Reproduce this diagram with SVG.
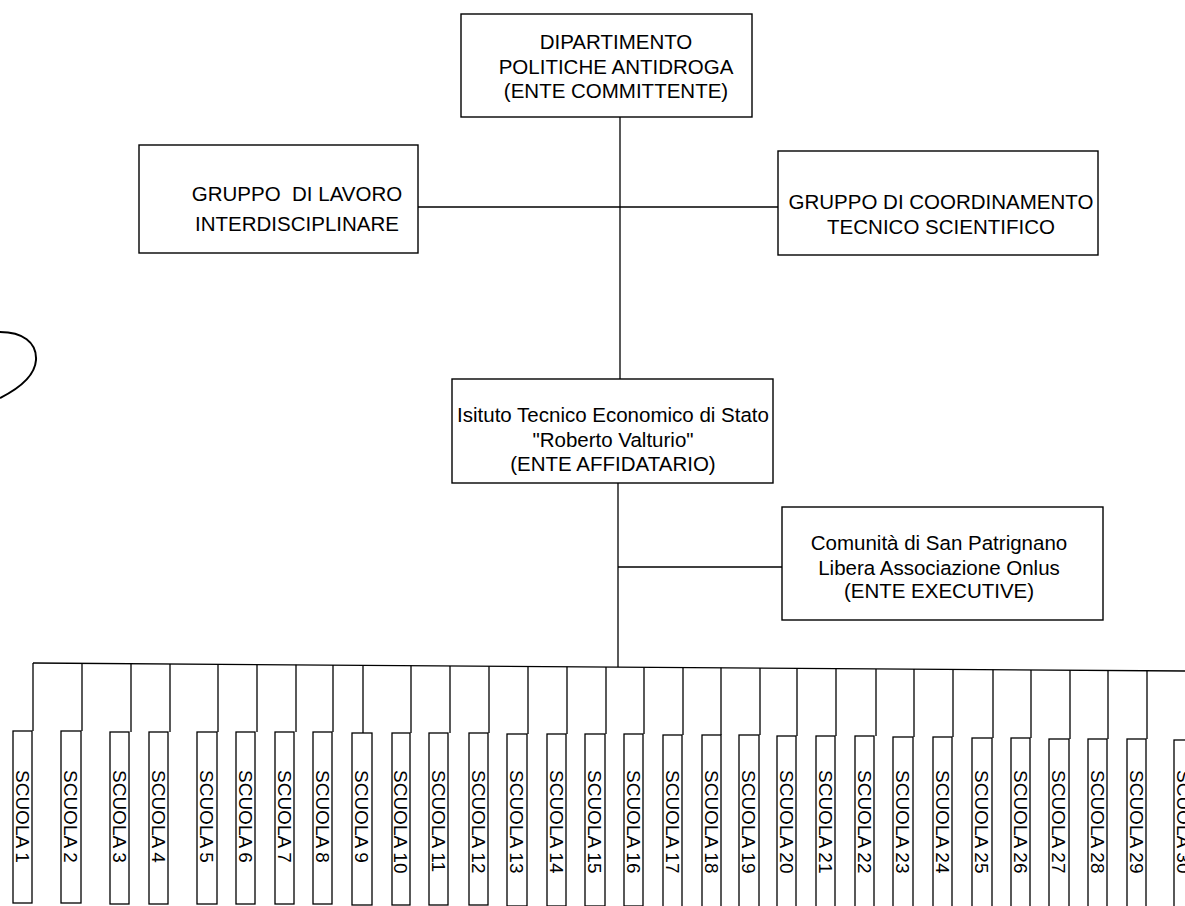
<svg xmlns="http://www.w3.org/2000/svg" width="1185" height="906" viewBox="0 0 1185 906">
<style>
.box{fill:#fff;stroke:#000;stroke-width:1.4}
.sbox{fill:#fff;stroke:#000;stroke-width:1.3}
.t{font-family:"Liberation Sans",Arial,sans-serif;font-size:20.5px;fill:#000;text-anchor:middle;white-space:pre}
.s{font-family:"Liberation Sans",Arial,sans-serif;font-size:19px;fill:#000}
.c line,.c polyline{stroke:#000;stroke-width:1.3;fill:none}
</style>
<rect width="1185" height="906" fill="#fff"/>
<path d="M0 332 C22 332 37 342 36 360 C35 375 20 388 0 398" fill="none" stroke="#000" stroke-width="2"/>
<g class="c" id="connectors">
<line x1="620" y1="117" x2="620" y2="379"/>
<line x1="418" y1="207" x2="778" y2="207"/>
<line x1="618" y1="483" x2="618" y2="667"/>
<line x1="618" y1="567" x2="782" y2="567"/>
<line x1="33" y1="663" x2="1185" y2="671"/>
<line x1="33" y1="663" x2="33" y2="731"/>
<line x1="82" y1="663.3" x2="82" y2="731"/>
<line x1="131" y1="663.7" x2="131" y2="732"/>
<line x1="170" y1="664" x2="170" y2="732"/>
<line x1="218" y1="664.3" x2="218" y2="732"/>
<line x1="257" y1="664.6" x2="257" y2="732"/>
<line x1="296" y1="664.8" x2="296" y2="732"/>
<line x1="333" y1="665.1" x2="333" y2="732"/>
<line x1="363" y1="665.3" x2="363" y2="733"/>
<line x1="411" y1="665.6" x2="411" y2="733"/>
<line x1="450" y1="665.9" x2="450" y2="733"/>
<line x1="489" y1="666.2" x2="489" y2="733"/>
<line x1="528" y1="666.4" x2="528" y2="734"/>
<line x1="567" y1="666.7" x2="567" y2="734"/>
<line x1="606" y1="667" x2="606" y2="734"/>
<line x1="644" y1="667.2" x2="644" y2="734"/>
<line x1="683" y1="667.5" x2="683" y2="735"/>
<line x1="721" y1="667.8" x2="721" y2="735"/>
<line x1="760" y1="668" x2="760" y2="735"/>
<line x1="797" y1="668.3" x2="797" y2="736"/>
<line x1="836" y1="668.6" x2="836" y2="736"/>
<line x1="876" y1="668.9" x2="876" y2="736"/>
<line x1="914" y1="669.1" x2="914" y2="737"/>
<line x1="953" y1="669.4" x2="953" y2="737"/>
<line x1="993" y1="669.7" x2="993" y2="738"/>
<line x1="1031" y1="670" x2="1031" y2="738"/>
<line x1="1070" y1="670.2" x2="1070" y2="739"/>
<line x1="1108" y1="670.5" x2="1108" y2="739"/>
<line x1="1147" y1="670.8" x2="1147" y2="739"/>
</g>
<g id="n-dipartimento">
<rect class="box" x="461" y="14" width="291" height="103"/>
<text class="t" x="616" y="49">DIPARTIMENTO</text>
<text class="t" x="616" y="74">POLITICHE ANTIDROGA</text>
<text class="t" x="616" y="98">(ENTE COMMITTENTE)</text>
</g>
<g id="n-gruppo-lavoro">
<rect class="box" x="139" y="145" width="279" height="108"/>
<text class="t" x="297" y="201">GRUPPO  DI LAVORO</text>
<text class="t" x="297" y="231">INTERDISCIPLINARE</text>
</g>
<g id="n-gruppo-coord">
<rect class="box" x="778" y="151" width="320" height="104"/>
<text class="t" x="941" y="209">GRUPPO DI COORDINAMENTO</text>
<text class="t" x="941" y="234">TECNICO SCIENTIFICO</text>
</g>
<g id="n-istituto">
<rect class="box" x="452" y="379" width="321" height="104"/>
<text class="t" x="613" y="422">Isituto Tecnico Economico di Stato</text>
<text class="t" x="613" y="447">"Roberto Valturio"</text>
<text class="t" x="613" y="471">(ENTE AFFIDATARIO)</text>
</g>
<g id="n-sanpatrignano">
<rect class="box" x="782" y="507" width="321" height="113"/>
<text class="t" x="939" y="550">Comunità di San Patrignano</text>
<text class="t" x="939" y="575">Libera Associazione Onlus</text>
<text class="t" x="939" y="598">(ENTE EXECUTIVE)</text>
</g>
<g id="n-s1"><rect class="sbox" x="13" y="731" width="19" height="172"/><text class="s" transform="translate(15.7,770) rotate(90)">SCUOLA 1</text></g>
<g id="n-s2"><rect class="sbox" x="61" y="731" width="20" height="172"/><text class="s" transform="translate(64.2,770) rotate(90)">SCUOLA 2</text></g>
<g id="n-s3"><rect class="sbox" x="110" y="732" width="19" height="172"/><text class="s" transform="translate(112.7,770) rotate(90)">SCUOLA 3</text></g>
<g id="n-s4"><rect class="sbox" x="149" y="732" width="19" height="172"/><text class="s" transform="translate(151.7,770) rotate(90)">SCUOLA 4</text></g>
<g id="n-s5"><rect class="sbox" x="197" y="732" width="20" height="172"/><text class="s" transform="translate(200.2,770) rotate(90)">SCUOLA 5</text></g>
<g id="n-s6"><rect class="sbox" x="236" y="732" width="19" height="172"/><text class="s" transform="translate(238.7,770) rotate(90)">SCUOLA 6</text></g>
<g id="n-s7"><rect class="sbox" x="275" y="732" width="19" height="172"/><text class="s" transform="translate(277.7,770) rotate(90)">SCUOLA 7</text></g>
<g id="n-s8"><rect class="sbox" x="313" y="732" width="19" height="172"/><text class="s" transform="translate(315.7,770) rotate(90)">SCUOLA 8</text></g>
<g id="n-s9"><rect class="sbox" x="352" y="733" width="20" height="172"/><text class="s" transform="translate(355.2,770) rotate(90)">SCUOLA 9</text></g>
<g id="n-s10"><rect class="sbox" x="392" y="733" width="18" height="172"/><text class="s" transform="translate(394.2,770) rotate(90)">SCUOLA 10</text></g>
<g id="n-s11"><rect class="sbox" x="429" y="733" width="19" height="172"/><text class="s" transform="translate(431.7,770) rotate(90)">SCUOLA 11</text></g>
<g id="n-s12"><rect class="sbox" x="469" y="733" width="19" height="172"/><text class="s" transform="translate(471.7,770) rotate(90)">SCUOLA 12</text></g>
<g id="n-s13"><rect class="sbox" x="507" y="734" width="20" height="172"/><text class="s" transform="translate(510.2,770) rotate(90)">SCUOLA 13</text></g>
<g id="n-s14"><rect class="sbox" x="547" y="734" width="19" height="172"/><text class="s" transform="translate(549.7,770) rotate(90)">SCUOLA 14</text></g>
<g id="n-s15"><rect class="sbox" x="585" y="734" width="20" height="172"/><text class="s" transform="translate(588.2,770) rotate(90)">SCUOLA 15</text></g>
<g id="n-s16"><rect class="sbox" x="624" y="734" width="19" height="172"/><text class="s" transform="translate(626.7,770) rotate(90)">SCUOLA 16</text></g>
<g id="n-s17"><rect class="sbox" x="663" y="735" width="19" height="172"/><text class="s" transform="translate(665.7,770) rotate(90)">SCUOLA 17</text></g>
<g id="n-s18"><rect class="sbox" x="702" y="735" width="19" height="172"/><text class="s" transform="translate(704.7,770) rotate(90)">SCUOLA 18</text></g>
<g id="n-s19"><rect class="sbox" x="739" y="735" width="20" height="172"/><text class="s" transform="translate(742.2,770) rotate(90)">SCUOLA 19</text></g>
<g id="n-s20"><rect class="sbox" x="777" y="736" width="19" height="172"/><text class="s" transform="translate(779.7,770) rotate(90)">SCUOLA 20</text></g>
<g id="n-s21"><rect class="sbox" x="816" y="736" width="19" height="172"/><text class="s" transform="translate(818.7,770) rotate(90)">SCUOLA 21</text></g>
<g id="n-s22"><rect class="sbox" x="855" y="736" width="19" height="172"/><text class="s" transform="translate(857.7,770) rotate(90)">SCUOLA 22</text></g>
<g id="n-s23"><rect class="sbox" x="893" y="737" width="20" height="172"/><text class="s" transform="translate(896.2,770) rotate(90)">SCUOLA 23</text></g>
<g id="n-s24"><rect class="sbox" x="933" y="737" width="19" height="172"/><text class="s" transform="translate(935.7,770) rotate(90)">SCUOLA 24</text></g>
<g id="n-s25"><rect class="sbox" x="972" y="738" width="20" height="172"/><text class="s" transform="translate(975.2,770) rotate(90)">SCUOLA 25</text></g>
<g id="n-s26"><rect class="sbox" x="1011" y="738" width="19" height="172"/><text class="s" transform="translate(1013.7,770) rotate(90)">SCUOLA 26</text></g>
<g id="n-s27"><rect class="sbox" x="1049" y="739" width="20" height="172"/><text class="s" transform="translate(1052.2,770) rotate(90)">SCUOLA 27</text></g>
<g id="n-s28"><rect class="sbox" x="1088" y="739" width="19" height="172"/><text class="s" transform="translate(1090.7,770) rotate(90)">SCUOLA 28</text></g>
<g id="n-s29"><rect class="sbox" x="1127" y="739" width="19" height="172"/><text class="s" transform="translate(1129.7,770) rotate(90)">SCUOLA 29</text></g>
<g id="n-s30"><rect class="sbox" x="1174" y="740" width="20" height="172"/><text class="s" transform="translate(1177.2,770) rotate(90)">SCUOLA 30</text></g>
</svg>
